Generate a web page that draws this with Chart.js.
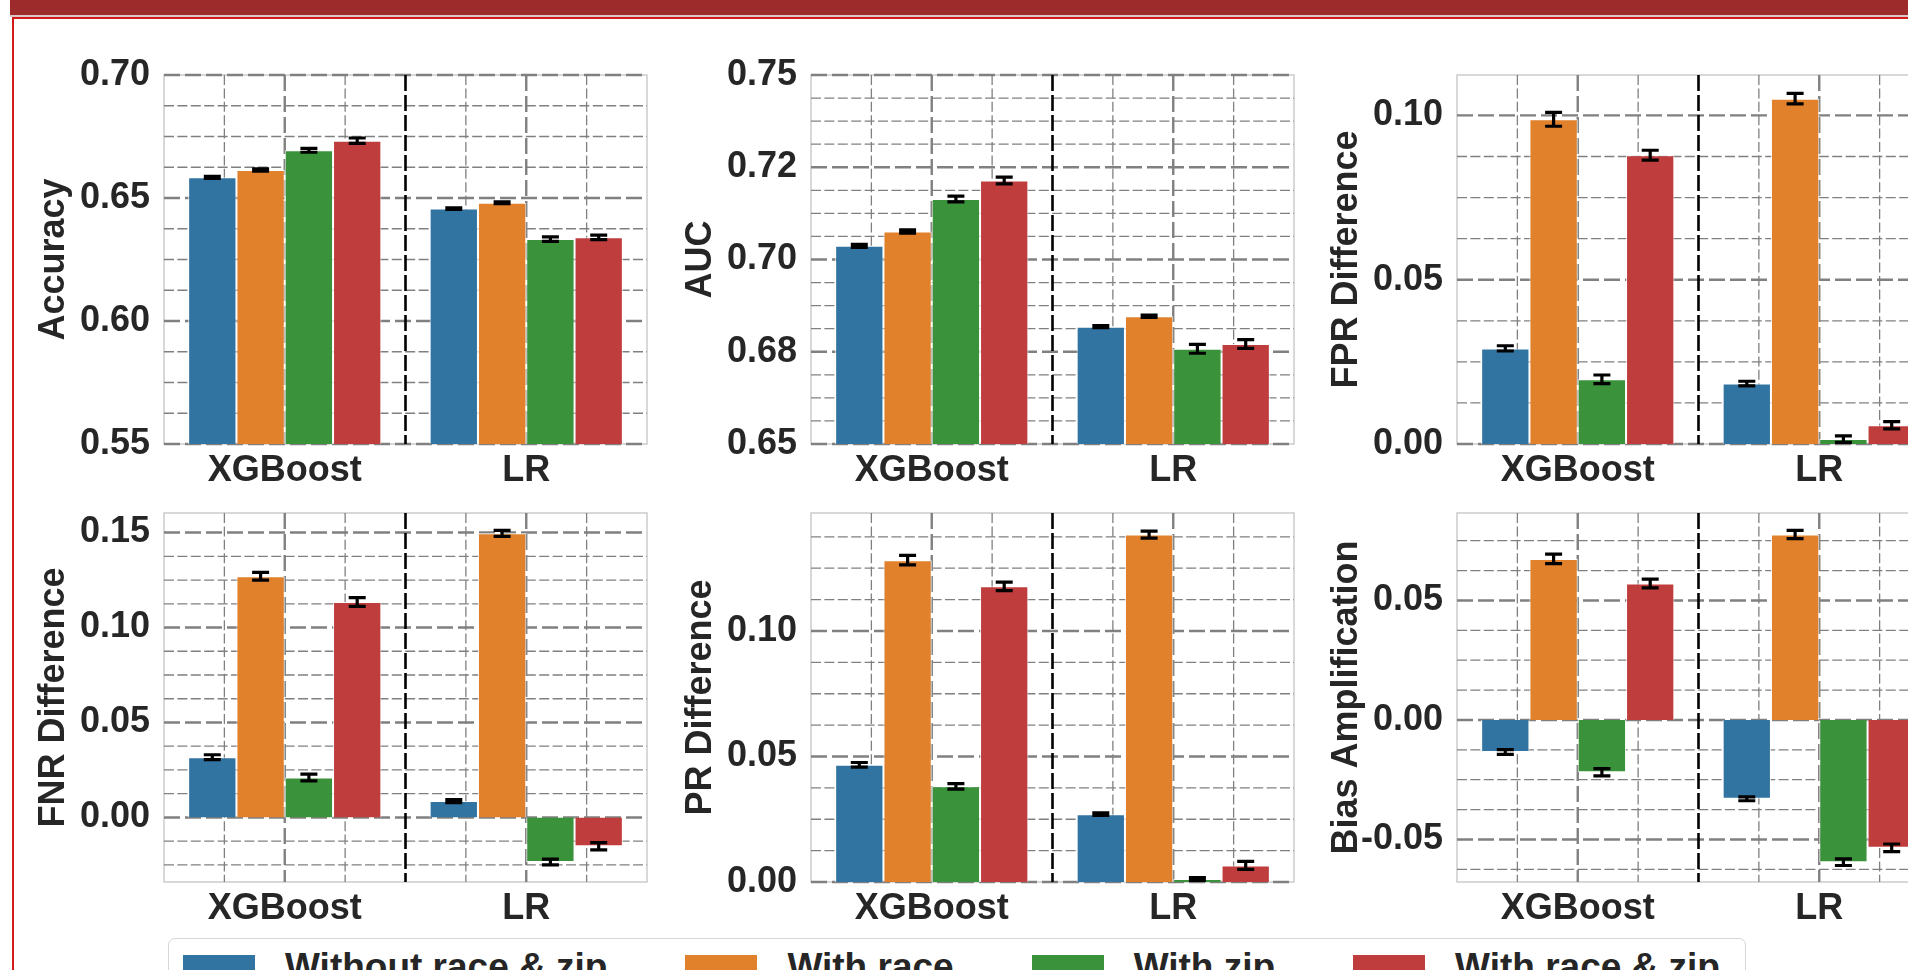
<!DOCTYPE html>
<html>
<head>
<meta charset="utf-8">
<script src="https://cdn.jsdelivr.net/npm/chart.js@4.4.1/dist/chart.umd.min.js"></script>
<style>
  html, body { margin: 0; padding: 0; width: 1908px; height: 970px; overflow: hidden; background: #fff; }
  body { position: relative; font-family: "Liberation Sans", Arial, sans-serif; }
  .band { position: absolute; left: 10px; top: 0; right: 0; height: 15px; background: #9e2b2c; }
  .band-line { position: absolute; left: 10px; top: 15px; right: 0; height: 2px; background: #dcc6c6; }
  .frame { position: absolute; left: 12px; top: 17px; width: 2000px; height: 1000px;
           border-top: 2px solid #d21a1a; border-left: 2px solid #d21a1a; }
  canvas { position: absolute; }
  #legend { position: absolute; left: 168px; top: 938px; width: 1578px; height: 70px; box-sizing: border-box;
            border: 1.5px solid #d6d6d6; border-radius: 7px; background: #fff; }
  #legend .items { position: absolute; left: 14px; top: 15.5px; display: flex; }
  #legend .item { display: flex; align-items: flex-start; margin-right: 78px; }
  #legend .patch { width: 72px; height: 25px; margin-right: 30px; }
  #legend .txt { font: bold 37px "Liberation Sans", Arial, sans-serif; line-height: 37px; color: #262626;
                 margin-top: -7px; white-space: nowrap; }
</style>
</head>
<body>
<div class="band"></div>
<div class="band-line"></div>
<div class="frame"></div>
<div id="legend"><div class="items"></div></div>

<script>
// categories and series
const models = ['XGBoost', 'LR'];
const featureSets = ['Without race & zip', 'With race', 'With zip', 'With race & zip'];
const colors = ['#3274a1', '#e1812c', '#3a923a', '#c03d3e'];

// values per feature set: [XGBoost, LR]
const accuracyVals = [[0.6584, 0.6457], [0.6614, 0.6481], [0.6694, 0.6333], [0.6733, 0.6340]];
const accuracyErr  = [[0.0004, 0.0003], [0.0005, 0.00035], [0.0008, 0.0009], [0.0011, 0.0009]];
const aucVals = [[0.7037, 0.6818], [0.7076, 0.6846], [0.7164, 0.6758], [0.7214, 0.6771]];
const aucErr  = [[0.0004, 0.0003], [0.00045, 0.0003], [0.0008, 0.0012], [0.0009, 0.0012]];
const fprVals = [[0.0291, 0.0184], [0.0988, 0.1051], [0.0197, 0.0015], [0.0879, 0.0057]];
const fprErr  = [[0.0008, 0.0007], [0.0021, 0.0016], [0.0013, 0.0010], [0.0015, 0.0011]];
const fnrVals = [[0.0317, 0.0086], [0.1270, 0.1496], [0.0210, -0.0235], [0.1134, -0.0152]];
const fnrErr  = [[0.0013, 0.0008], [0.0020, 0.0016], [0.0018, 0.0015], [0.0023, 0.0019]];
const prVals = [[0.0467, 0.0270], [0.1282, 0.1384], [0.0381, 0.0012], [0.1178, 0.0066]];
const prErr  = [[0.0009, 0.0005], [0.0019, 0.0014], [0.0011, 0.0006], [0.0017, 0.0016]];
const biasVals = [[-0.0134, -0.0330], [0.0674, 0.0776], [-0.0219, -0.0595], [0.0571, -0.0535]];
const biasErr  = [[0.0010, 0.0008], [0.0020, 0.0017], [0.0015, 0.0014], [0.0018, 0.0016]];

// tick values and labels
const accuracyTicks = [0.55, 0.60, 0.65, 0.70];
const accuracyTickLabels = ['0.55', '0.60', '0.65', '0.70'];
const aucTicks = [0.65, 0.675, 0.70, 0.725, 0.75];
const aucTickLabels = ['0.65', '0.68', '0.70', '0.72', '0.75'];
const fprTicks = [0, 0.05, 0.10];
const fprTickLabels = ['0.00', '0.05', '0.10'];
const fnrTicks = [0, 0.05, 0.10, 0.15];
const fnrTickLabels = ['0.00', '0.05', '0.10', '0.15'];
const prTicks = [0, 0.05, 0.10];
const prTickLabels = ['0.00', '0.05', '0.10'];
const biasTicks = [-0.05, 0, 0.05];
const biasTickLabels = ['-0.05', '0.00', '0.05'];

const panels = [
  { title: 'Accuracy', vals: accuracyVals, err: accuracyErr, min: 0.55, max: 0.70, ticks: accuracyTicks, labels: accuracyTickLabels, minor: 0.0125, col: 0, row: 0 },
  { title: 'AUC', vals: aucVals, err: aucErr, min: 0.65, max: 0.75, ticks: aucTicks, labels: aucTickLabels, minor: 0.00625, col: 1, row: 0 },
  { title: 'FPR Difference', vals: fprVals, err: fprErr, min: 0, max: 0.1123, ticks: fprTicks, labels: fprTickLabels, minor: 0.0125, col: 2, row: 0 },
  { title: 'FNR Difference', vals: fnrVals, err: fnrErr, min: -0.034, max: 0.1603, ticks: fnrTicks, labels: fnrTickLabels, minor: 0.0125, col: 0, row: 1 },
  { title: 'PR Difference', vals: prVals, err: prErr, min: 0, max: 0.147, ticks: prTicks, labels: prTickLabels, minor: 0.0125, col: 1, row: 1 },
  { title: 'Bias Amplification', vals: biasVals, err: biasErr, min: -0.0678, max: 0.0866, ticks: biasTicks, labels: biasTickLabels, minor: 0.0125, col: 2, row: 1 },
];

// layout
const plotLefts = [164, 811, 1457];
const plotTops = [75, 513];
const plotW = 483, plotH = 369;
const axisW = 140, padT = 40, padR = 15, axisH = 60;

Chart.defaults.font.family = '"Liberation Sans", Arial, sans-serif';
const textColor = '#262626';
const bigFont = { size: 36, weight: 'bold', lineHeight: 1.2 };

// seaborn-like dashed grid, drawn from the chart's own scales
const mplGrid = {
  id: 'mplGrid',
  beforeDatasetsDraw(chart, args, opts) {
    const { ctx, chartArea: a, scales: { x, y } } = chart;
    ctx.save();
    // spines
    ctx.strokeStyle = '#cccccc';
    ctx.lineWidth = 1.5;
    ctx.strokeRect(a.left, a.top, a.width, a.height);
    ctx.beginPath();
    ctx.rect(a.left - 2, a.top - 2, a.width + 4, a.height + 4);
    ctx.clip();
    const hline = (v) => { const p = y.getPixelForValue(v); ctx.beginPath(); ctx.moveTo(a.left, p); ctx.lineTo(a.right, p); ctx.stroke(); };
    const vline = (p) => { ctx.beginPath(); ctx.moveTo(p, a.top); ctx.lineTo(p, a.bottom); ctx.stroke(); };
    const x0 = x.getPixelForValue(0), x1 = x.getPixelForValue(1), d = x1 - x0;
    // minor
    ctx.strokeStyle = '#808080';
    ctx.lineWidth = 1.3;
    ctx.setLineDash([10, 3.4]);
    const st = opts.minor;
    for (let k = Math.ceil(y.min / st - 1e-6); k * st <= y.max + 1e-9; k++) {
      const v = k * st;
      if (opts.ticks.some(t => Math.abs(t - v) < 1e-6)) continue;
      hline(v);
    }
    [x0 - d / 4, x0 + d / 4, x1 - d / 4, x1 + d / 4].forEach(vline);
    // major
    ctx.lineWidth = 2.4;
    ctx.setLineDash([16, 5]);
    opts.ticks.forEach(hline);
    [x0, x1].forEach(vline);
    // divider between models
    ctx.strokeStyle = '#000';
    ctx.lineWidth = 2.6;
    ctx.setLineDash([16, 4]);
    vline((x0 + x1) / 2);
    ctx.restore();
  }
};

const errorBars = {
  id: 'errorBars',
  afterDatasetsDraw(chart) {
    const { ctx, scales: { y } } = chart;
    ctx.save();
    ctx.strokeStyle = '#000';
    ctx.lineWidth = 3.2;
    const cap = 8.5;
    chart.data.datasets.forEach((ds, i) => {
      chart.getDatasetMeta(i).data.forEach((bar, j) => {
        const v = ds.data[j], e = ds.errors[j];
        const t = y.getPixelForValue(v + e), b = y.getPixelForValue(v - e);
        ctx.beginPath();
        ctx.moveTo(bar.x, t); ctx.lineTo(bar.x, b);
        ctx.moveTo(bar.x - cap, t); ctx.lineTo(bar.x + cap, t);
        ctx.moveTo(bar.x - cap, b); ctx.lineTo(bar.x + cap, b);
        ctx.stroke();
      });
    });
    ctx.restore();
  }
};

panels.forEach(p => {
  const cv = document.createElement('canvas');
  const w = axisW + plotW + padR, h = padT + plotH + axisH;
  cv.width = w; cv.height = h;
  cv.style.width = w + 'px'; cv.style.height = h + 'px';
  cv.style.left = (plotLefts[p.col] - axisW) + 'px';
  cv.style.top = (plotTops[p.row] - padT) + 'px';
  document.body.appendChild(cv);

  new Chart(cv.getContext('2d'), {
    type: 'bar',
    data: {
      labels: models,
      datasets: featureSets.map((name, i) => ({
        label: name,
        data: p.vals[i],
        errors: p.err[i],
        backgroundColor: colors[i],
        borderColor: 'rgba(255,255,255,0.85)',
        borderWidth: 1,
        categoryPercentage: 0.8,
        barPercentage: 1.0,
      }))
    },
    options: {
      responsive: false,
      animation: false,
      layout: { padding: { left: 0, top: padT, right: padR, bottom: 0 } },
      plugins: {
        legend: { display: false },
        tooltip: { enabled: false },
        mplGrid: { ticks: p.ticks, minor: p.minor },
      },
      scales: {
        x: {
          offset: true,
          grid: { display: false, drawTicks: false },
          border: { display: false },
          ticks: { font: bigFont, color: textColor, padding: 5, maxRotation: 0, autoSkip: false },
          afterFit: (s) => { s.height = axisH; },
        },
        y: {
          min: p.min,
          max: p.max,
          afterBuildTicks: (s) => { s.ticks = p.ticks.map(v => ({ value: v })); },
          grid: { display: false, drawTicks: false },
          border: { display: false },
          ticks: { font: bigFont, color: textColor, padding: 14, autoSkip: false,
                   callback: (v, i) => p.labels[i] },
          title: { display: true, text: p.title, font: bigFont, color: textColor, padding: { top: 8, bottom: 0 } },
          afterFit: (s) => { s.width = axisW; },
        }
      }
    },
    plugins: [mplGrid, errorBars]
  });
});

// shared legend built from the series arrays
const items = document.querySelector('#legend .items');
featureSets.forEach((name, i) => {
  const it = document.createElement('div');
  it.className = 'item';
  const patch = document.createElement('div');
  patch.className = 'patch';
  patch.style.background = colors[i];
  const txt = document.createElement('div');
  txt.className = 'txt';
  txt.textContent = name;
  it.appendChild(patch); it.appendChild(txt);
  items.appendChild(it);
});
</script>
</body>
</html>
